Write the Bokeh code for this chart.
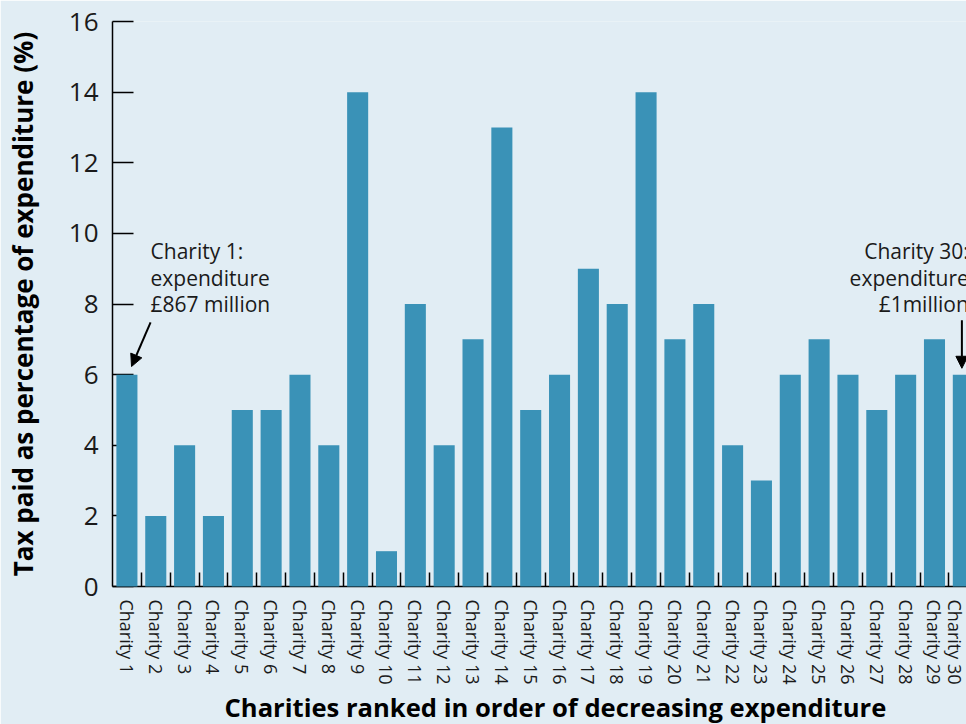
from bokeh.plotting import figure
from bokeh.models import FixedTicker, Label, Arrow, NormalHead, ColumnDataSource, Range1d, Title
from bokeh.embed import file_html
from bokeh.resources import INLINE

# ---- data ----
charities = ["Charity 1", "Charity 2", "Charity 3", "Charity 4", "Charity 5",
             "Charity 6", "Charity 7", "Charity 8", "Charity 9", "Charity 10",
             "Charity 11", "Charity 12", "Charity 13", "Charity 14", "Charity 15",
             "Charity 16", "Charity 17", "Charity 18", "Charity 19", "Charity 20",
             "Charity 21", "Charity 22", "Charity 23", "Charity 24", "Charity 25",
             "Charity 26", "Charity 27", "Charity 28", "Charity 29", "Charity 30"]
tax_pct = [6, 2, 4, 2, 5, 5, 6, 4, 14, 1, 8, 4, 7, 13, 5,
           6, 9, 8, 14, 7, 8, 4, 3, 6, 7, 6, 5, 6, 7, 6]
y_ticks = [0, 2, 4, 6, 8, 10, 12, 14, 16]
first_note = ["Charity 1:", "expenditure", "£867 million"]
last_note = ["Charity 30:", "expenditure", "£1million"]
x_title = "Charities ranked in order of decreasing expenditure"
y_title = "Tax paid as percentage of expenditure (%)"

positions = list(range(1, len(charities) + 1))

BG = "#e1edf4"
BAR = "#3a92b7"
FONT = "Open Sans"
INK = "#1a1a1a"

p = figure(width=966, height=724, title=None,
           x_range=Range1d(0.5, 30.11), y_range=Range1d(0, 16),
           output_backend="svg", toolbar_location=None,
           min_border_left=112, min_border_right=0,
           min_border_top=21, min_border_bottom=138)
p.background_fill_color = BG
p.border_fill_color = BG
p.outline_line_color = None
p.grid.visible = False

src = ColumnDataSource(dict(x=positions, top=tax_pct, name=charities))
p.vbar(x="x", top="top", width=0.73, source=src, fill_color=BAR,
       line_color=None, level="annotation")

# x axis
xa = p.xaxis[0]
xa.ticker = FixedTicker(ticks=positions, minor_ticks=[v + 0.5 for v in positions[:-1]])
xa.major_label_overrides = {v: n for v, n in zip(positions, charities)}
xa.major_label_orientation = "vertical"
xa.major_label_text_font = FONT
xa.major_label_text_font_size = "18px"
xa.major_label_text_color = INK
xa.major_label_standoff = 7
xa.major_tick_line_color = None
xa.minor_tick_in = 14
xa.minor_tick_out = 0
xa.minor_tick_line_color = "black"
xa.minor_tick_line_width = 1.5
xa.axis_line_color = "black"
xa.axis_line_width = 1.5

# y axis
ya = p.yaxis[0]
ya.ticker = FixedTicker(ticks=y_ticks)
ya.major_tick_in = 21
ya.major_tick_out = 0
ya.major_tick_line_color = "black"
ya.major_tick_line_width = 1.5
ya.minor_tick_line_color = None
ya.axis_line_color = "black"
ya.axis_line_width = 1.5
ya.major_label_text_font = FONT
ya.major_label_text_font_size = "26px"
ya.major_label_text_color = INK
ya.major_label_standoff = 14
ya.axis_label = y_title
ya.axis_label_text_font = FONT
ya.axis_label_text_font_size = "26px"
ya.axis_label_text_font_style = "bold"
ya.axis_label_text_color = "black"
ya.axis_label_standoff = 25

# x axis title
p.add_layout(Title(text=x_title, align="left", offset=112, text_font=FONT,
                   text_font_size="25.6px", text_font_style="bold",
                   text_color="black", standoff=0), "below")

# annotations
line_gap = 26.5
for i, t in enumerate(first_note):
    p.add_layout(Label(x=positions[0] + 0.82, y=tax_pct[0] + 3.49, text=t,
                       y_offset=-line_gap * i, text_align="left",
                       text_baseline="alphabetic", text_font=FONT,
                       text_font_size="21px", text_color=INK))
for i, t in enumerate(last_note):
    p.add_layout(Label(x=positions[-1] + 0.19, y=tax_pct[-1] + 3.49, text=t,
                       y_offset=-line_gap * i, text_align="right",
                       text_baseline="alphabetic", text_font=FONT,
                       text_font_size="21px", text_color=INK))

p.add_layout(Arrow(end=NormalHead(size=12, fill_color="black", line_color="black"),
                   x_start=positions[0] + 0.82, y_start=tax_pct[0] + 1.48,
                   x_end=positions[0] + 0.16, y_end=tax_pct[0] + 0.23,
                   line_width=2, line_color="black"))
p.add_layout(Arrow(end=NormalHead(size=12, fill_color="black", line_color="black"),
                   x_start=positions[-1] - 0.05, y_start=tax_pct[-1] + 1.54,
                   x_end=positions[-1] - 0.05, y_end=tax_pct[-1] + 0.18,
                   line_width=2, line_color="black"))

open("out.html", "w").write(file_html(p, INLINE))
